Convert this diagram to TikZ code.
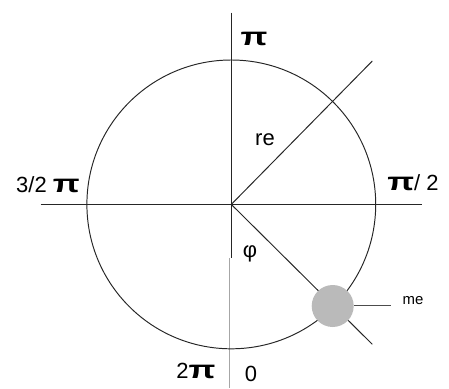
\documentclass[tikz,border=0pt]{standalone}
\usepackage{fontspec}
\setmainfont{Liberation Sans}
\usetikzlibrary{positioning, calc}

\newcommand{\widepi}{\scalebox{1.6}[1.15]{\bfseries π}}

\tikzset{
  axislabel/.style={inner sep=1pt, font=\fontsize{12.5}{14}\selectfont},
  smalllabel/.style={inner sep=1pt, font=\fontsize{8.5}{10}\selectfont},
  thinline/.style={line width=0.55pt, black!85}
}

\begin{document}
\begin{tikzpicture}
  \useasboundingbox (-4.626,-3.672) rectangle (4.354,4.088);
  \def\r{2.888}
  \coordinate (o) at (0,0);
  % axes
  \coordinate (top) at (0,3.834);
  \coordinate (mid) at (0,-1.072);
  \coordinate (lowtop) at (-0.036,-1.072);
  \coordinate (lowbot) at (-0.036,-3.672);
  \coordinate (left) at (-3.812,0);
  \coordinate (right) at (3.808,0);
  \draw[thinline] (top) -- (mid);
  \draw[line width=0.55pt, gray!70] (lowtop) -- (lowbot);
  \draw[thinline] (left) -- (right);
  % circle
  \draw[thinline] (o) circle (\r);
  % radii
  \coordinate (reEnd) at (2.82,2.868);
  \coordinate (phiEnd) at (2.82,-2.798);
  \draw[thinline] (o) -- (reEnd);
  \draw[thinline] (o) -- (phiEnd);
  % the disc
  \node[circle, fill=black!27, minimum size=0.84cm, inner sep=0pt] (disk) at (2.028,-2.032) {};
  \coordinate (meEnd) at (3.188,-2.012);
  \draw[line width=0.55pt, black!70] (disk.east |- meEnd) -- (meEnd);
  % labels
  \node[axislabel] (pi) at (0.454,3.308) {\widepi};
  \node[axislabel] (re) at (0.674,1.288) {re};
  \node[axislabel] (threehalf) at (-3.666,0.388) {3/2 \widepi};
  \node[axislabel] (half) at (3.634,0.428) {\widepi/ 2};
  \node[axislabel] (phi) at (0.374,-0.992) {φ};
  \node[axislabel] (twopi) at (-0.706,-3.33) {2\widepi};
  \node[axislabel] (zero) at (0.394,-3.39) {0};
  \node[smalllabel] (me) at (3.634,-1.932) {me};
\end{tikzpicture}
\end{document}
